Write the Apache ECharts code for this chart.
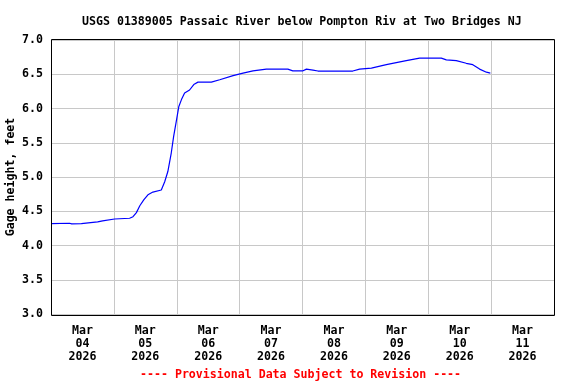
<!DOCTYPE html>
<html><head><meta charset="utf-8">
<script src="https://cdn.jsdelivr.net/npm/echarts@6/dist/echarts.min.js"></script>
<style>html,body{margin:0;padding:0;background:#fff}#c{width:576px;height:384px}</style>
</head><body><div id="c"></div>
<script>
const chartTitle = 'USGS 01389005 Passaic River below Pompton Riv at Two Bridges NJ';
const footnote = '---- Provisional Data Subject to Revision ----';
const yAxisName = 'Gage height, feet';
const dayLabels = ['Mar\n04\n2026','Mar\n05\n2026','Mar\n06\n2026','Mar\n07\n2026','Mar\n08\n2026','Mar\n09\n2026','Mar\n10\n2026','Mar\n11\n2026'];
const yMin = 3.0, yMax = 7.0, yStep = 0.5;
const hoursSinceMar04 = [0, 7.1, 7.9, 11.6, 17.8, 19.7, 24.3, 30.0, 31.3, 32.6, 33.9, 35.4, 37.0, 38.9, 42.1, 43.4, 44.6, 45.9, 46.8, 47.9, 48.8, 49.8, 51.0, 52.9, 54.5, 56.1, 61.2, 64.4, 69.5, 73.3, 77.1, 82.2, 90.4, 92.3, 96.2, 97.5, 100.0, 101.9, 115.2, 117.8, 122.3, 128.0, 131.8, 135.6, 140.7, 149.0, 150.9, 154.7, 158.5, 161.0, 163.6, 166.2, 167.7];
const gageHeight = [4.32, 4.325, 4.315, 4.32, 4.344, 4.36, 4.387, 4.398, 4.42, 4.48, 4.58, 4.665, 4.74, 4.78, 4.81, 4.93, 5.08, 5.35, 5.59, 5.83, 6.03, 6.13, 6.225, 6.27, 6.35, 6.385, 6.385, 6.42, 6.48, 6.517, 6.55, 6.575, 6.575, 6.55, 6.55, 6.575, 6.56, 6.547, 6.547, 6.575, 6.59, 6.64, 6.67, 6.70, 6.736, 6.736, 6.71, 6.70, 6.66, 6.64, 6.575, 6.53, 6.517];

const FONT = 'DejaVu Sans Mono';
const chart = echarts.init(document.getElementById('c'));
const gridL = 51, gridT = 40, gridW = 503, gridH = 274;
chart.setOption({
  animation: false,
  backgroundColor: '#fff',
  title: [{
    text: chartTitle, left: 77, top: 11,
    textStyle: {fontFamily: FONT, fontWeight: 'bold', fontSize: 11.6, color: '#000'}
  }, {
    text: footnote, left: 135, top: 364,
    textStyle: {fontFamily: FONT, fontWeight: 'bold', fontSize: 11.6, color: '#ff0000'}
  }],
  grid: {left: gridL, top: gridT, width: gridW, height: gridH, show: false, containLabel: false, outerBoundsMode: 'none'},
  xAxis: [{
    type: 'category', data: dayLabels, boundaryGap: true,
    axisLine: {show: false}, axisTick: {show: false},
    axisLabel: {fontFamily: FONT, fontWeight: 'bold', fontSize: 11.6, color: '#000', lineHeight: 13, margin: 10, interval: 0},
    splitLine: {show: true, interval: 0, lineStyle: {color: '#c8c8c8', width: 1}}
  }, {
    type: 'value', min: 0, max: 192, show: false
  }],
  yAxis: {
    type: 'value', min: yMin, max: yMax, interval: yStep,
    name: yAxisName, nameLocation: 'middle', nameGap: 34, nameMoveOverlap: false,
    nameTextStyle: {fontFamily: FONT, fontWeight: 'bold', fontSize: 11.6, color: '#000'},
    axisLine: {show: false}, axisTick: {show: false},
    axisLabel: {fontFamily: FONT, fontWeight: 'bold', fontSize: 11.6, color: '#000', margin: 8, formatter: v => v.toFixed(1)},
    splitLine: {show: true, lineStyle: {color: '#c8c8c8', width: 1}}
  },
  graphic: [{
    type: 'rect', shape: {x: 51.5, y: 39.5, width: 503, height: 276},
    style: {fill: 'none', stroke: '#000', lineWidth: 1}, z: 100
  }],
  series: [{
    type: 'line', xAxisIndex: 1, showSymbol: false, symbol: 'none',
    data: hoursSinceMar04.map((h, i) => [h, gageHeight[i]]),
    lineStyle: {color: '#0000ff', width: 1.2}
  }]
});
</script></body></html>
